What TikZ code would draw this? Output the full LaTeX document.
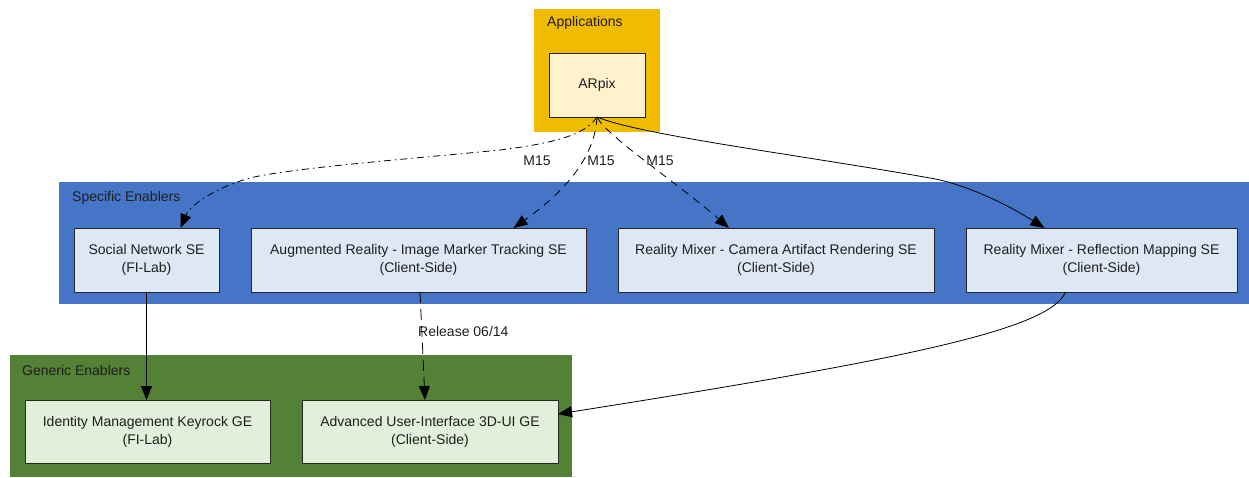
\documentclass[tikz,border=0pt]{standalone}
\usepackage{fontspec}
\setmainfont{Liberation Sans}
\usetikzlibrary{arrows.meta,calc}
\definecolor{appgold}{HTML}{F0BC00}
\definecolor{seblue}{HTML}{4675C8}
\definecolor{gegreen}{HTML}{538135}
\definecolor{appfill}{HTML}{FFF2CC}
\definecolor{sefill}{HTML}{DEE8F5}
\definecolor{gefill}{HTML}{E2EFDA}
\definecolor{txt}{HTML}{1E1E1E}
\begin{document}
\begin{tikzpicture}[x=1pt,y=-1pt, font=\fontsize{14}{18}\selectfont,
 cluster/.style={rectangle, inner sep=0pt, outer sep=0pt, draw=none},
 box/.style={rectangle, draw=black!85, line width=0.8pt, inner sep=0pt, outer sep=0pt, minimum height=64pt, align=center, text=txt},
 clabel/.style={anchor=west, inner sep=0pt, text=txt},
 elabel/.style={inner sep=0pt, text=txt},
 edge/.style={-{Triangle[length=14pt,width=11pt]}, line width=0.8pt, black},
 dashline/.style={dash pattern=on 8pt off 6pt},
 dashdotline/.style={dash pattern=on 7pt off 4pt on 1.5pt off 4pt},
 ]
\useasboundingbox (0,0) rectangle (1249,477);
% clusters
\node[cluster, fill=appgold, minimum width=126pt, minimum height=123pt] (apps) at (597,70.5) {};
\node[clabel] (appslbl) at (547,23) {Applications};
\node[cluster, fill=seblue, minimum width=1190pt, minimum height=122pt] (se) at (654,243) {};
\node[clabel] (selbl) at (72,198) {Specific Enablers};
\node[cluster, fill=gegreen, minimum width=562pt, minimum height=122pt] (ge) at (291,416) {};
\node[clabel] (gelbl) at (22,370) {Generic Enablers};
% nodes
\node[box, fill=appfill, minimum width=96pt] (arpix) at (597,85) {ARpix};
\node[box, fill=sefill, minimum width=145pt] (sn) at (146.5,260) {Social Network SE\\(FI-Lab)};
\node[box, fill=sefill, minimum width=335pt] (ar) at (418.5,260) {Augmented Reality - Image Marker Tracking SE\\(Client-Side)};
\node[box, fill=sefill, minimum width=316pt] (cam) at (776,260) {Reality Mixer - Camera Artifact Rendering SE\\(Client-Side)};
\node[box, fill=sefill, minimum width=271pt] (rm) at (1101.5,260) {Reality Mixer - Reflection Mapping SE\\(Client-Side)};
\node[box, fill=gefill, minimum width=245pt, minimum height=63pt] (idm) at (147.5,431.5) {Identity Management Keyrock GE\\(FI-Lab)};
\node[box, fill=gefill, minimum width=256pt, minimum height=63pt] (aui) at (430,431.5) {Advanced User-Interface 3D-UI GE\\(Client-Side)};
% edges
\draw[edge, dashdotline] (arpix.south) .. controls (585,135) and (555,143) .. (500,150)
  .. controls (420,158) and (290,168) .. (250,178)
  .. controls (215,188) and (190,205) .. ($(sn.north)+(34,0)$);
\draw[edge, dashline] (arpix.south) .. controls (595,160) and (560,195) .. ($(ar.north)+(95,0)$);
\draw[edge, dashline] (arpix.south) .. controls (605,135) and (680,185) .. ($(cam.north)+(-47,0)$);
\draw[edge] (arpix.south) .. controls (640,135) and (800,155) .. (930,178)
  .. controls (960,183) and (1000,200) .. ($(rm.north)+(-57,0)$);
\draw[edge] (sn.south) -- (sn.south |- idm.north);
\draw[edge, dash pattern=on 11pt off 6pt] ($(ar.south)+(1.5,0)$) -- ($(aui.north)+(-5,0)$);
\draw[edge] ($(rm.south)+(-36,0)$) .. controls (1050,330) and (900,360) .. ($(aui.east)+(0,-17.5)$);
% edge labels
\node[elabel] (l1) at (537,160.5) {M15};
\node[elabel] (l2) at (601,160.5) {M15};
\node[elabel] (l3) at (660,160.5) {M15};
\node[elabel, anchor=west] (l4) at (418,331) {Release 06/14};
\end{tikzpicture}
\end{document}
